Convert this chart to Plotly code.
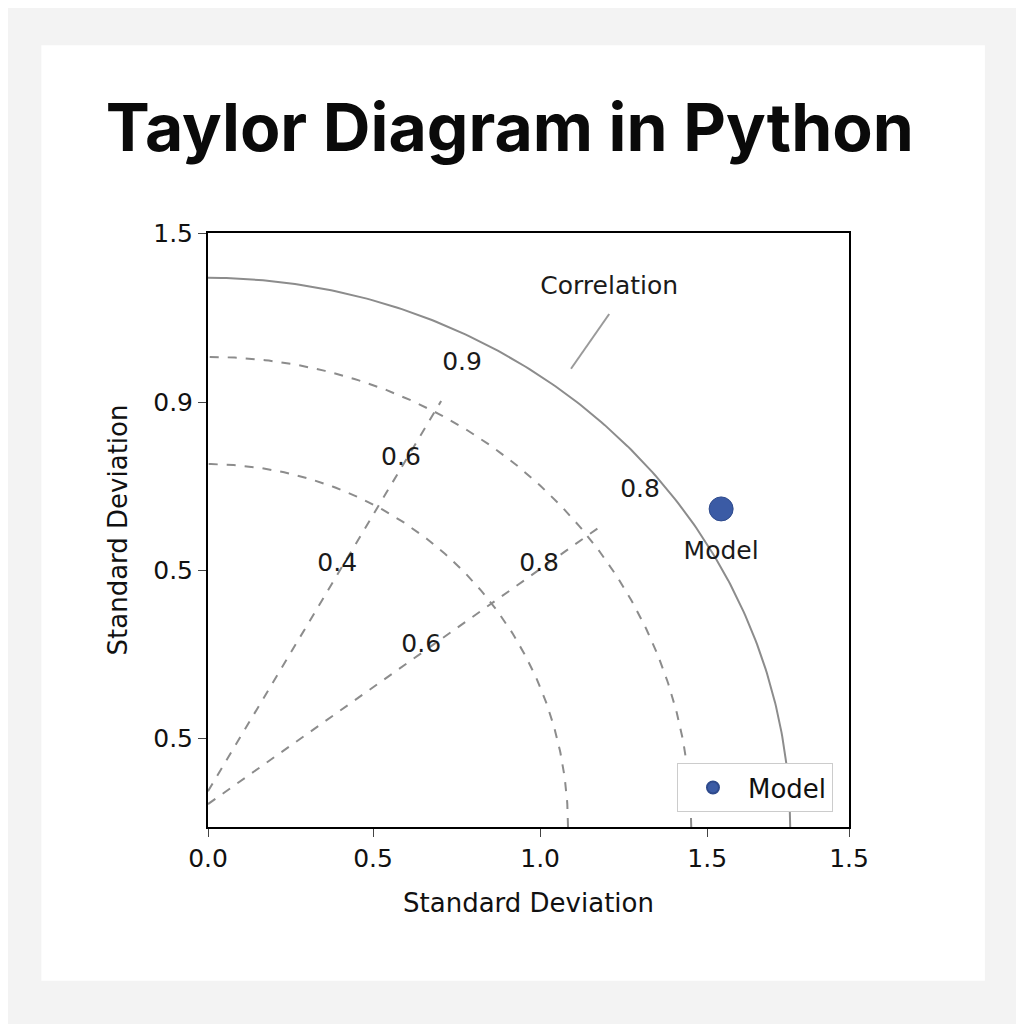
import numpy as np
import plotly.graph_objects as go

# arcs: (radius along x, radius along y, dashed?)
arc_rx = [1.753, 1.455, 1.084]
arc_ry = [1.654, 1.416, 1.093]
arc_dash = ["solid", "dash", "dash"]

# dashed correlation rays: start and end points
ray_x0 = [0.0, 0.0]
ray_y0 = [0.108, 0.069]
ray_x1 = [0.702, 1.184]
ray_y1 = [1.283, 0.907]

# label texts and positions
label_text = ["Correlation", "0.9", "0.6", "0.4", "0.8", "0.6", "0.8", "Model"]
label_x = [1.208, 0.765, 0.581, 0.389, 0.997, 0.642, 1.301, 1.545]
label_y = [1.625, 1.395, 1.108, 0.789, 0.789, 0.545, 1.012, 0.826]

model_x = [1.545]
model_y = [0.958]

x_tickvals = [0.0, 0.497, 1.0, 1.503, 1.93]
x_ticktext = ["0.0", "0.5", "1.0", "1.5", "1.5"]
y_tickvals = [0.268, 0.774, 1.28, 1.789]
y_ticktext = ["0.5", "0.5", "0.9", "1.5"]

fig = go.Figure()

t = np.linspace(0, np.pi / 2, 200)
for rx, ry, d in zip(arc_rx, arc_ry, arc_dash):
    fig.add_trace(go.Scatter(x=rx * np.cos(t), y=ry * np.sin(t), mode="lines",
                             line=dict(color="#8c8c8c", width=2, dash=d),
                             showlegend=False, hoverinfo="skip"))

for x0, y0, x1, y1 in zip(ray_x0, ray_y0, ray_x1, ray_y1):
    fig.add_trace(go.Scatter(x=[x0, x1], y=[y0, y1], mode="lines",
                             line=dict(color="#8c8c8c", width=2, dash="dash"),
                             showlegend=False, hoverinfo="skip"))

# pointer from "Correlation" label to the outer arc
fig.add_trace(go.Scatter(x=[1.093, 1.208], y=[1.38, 1.545], mode="lines",
                         line=dict(color="#9a9a9a", width=2),
                         showlegend=False, hoverinfo="skip"))

fig.add_trace(go.Scatter(x=label_x, y=label_y, mode="text", text=label_text,
                         textfont=dict(size=25, color="#1a1a1a", family="DejaVu Sans"),
                         showlegend=False, hoverinfo="skip"))

fig.add_trace(go.Scatter(x=model_x, y=model_y, mode="markers", name="Model",
                         marker=dict(size=24, color="#3b5ba5",
                                     line=dict(color="#2e4a8c", width=1))))

fig.update_layout(
    width=1024, height=1024,
    margin=dict(l=200, r=183, t=225, b=205),
    paper_bgcolor="#f3f3f3", plot_bgcolor="white",
    font=dict(family="DejaVu Sans", size=25, color="#111"),
    title=dict(text="<b>Taylor Diagram in Python</b>", x=0.49, xanchor="center",
               y=0.883, yanchor="middle",
               font=dict(family="Inter", size=66, color="#0a0a0a")),
    xaxis=dict(range=[0, 1.93], tickvals=x_tickvals, ticktext=x_ticktext,
               showgrid=False, zeroline=False, showline=True, mirror=True,
               linecolor="black", linewidth=2, ticks="outside", ticklen=8,
               title=dict(text="Standard Deviation", font=dict(size=26), standoff=22)),
    yaxis=dict(range=[0, 1.789], tickvals=y_tickvals, ticktext=y_ticktext,
               showgrid=False, zeroline=False, showline=True, mirror=True,
               linecolor="black", linewidth=2, ticks="outside", ticklen=8,
               title=dict(text="Standard Deviation", font=dict(size=26), standoff=18)),
    legend=dict(x=0.975, y=0.025, xanchor="right", yanchor="bottom",
                bordercolor="#cccccc", borderwidth=1, bgcolor="white",
                font=dict(size=26), itemwidth=60, itemsizing="constant"),
    shapes=[dict(type="rect", xref="paper", yref="paper", layer="below",
                 x0=-0.26, x1=1.212, y0=-0.259, y1=1.316,
                 fillcolor="white", line=dict(width=0))],
)

fig.write_html("out.html")
